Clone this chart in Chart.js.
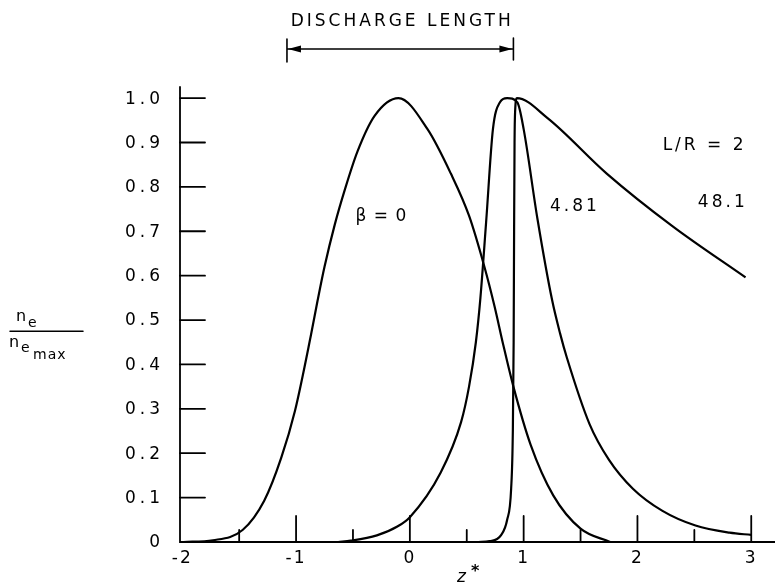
<!DOCTYPE html>
<html>
<head>
  <title>Electron density profiles</title>
  <script src="https://cdn.jsdelivr.net/npm/chart.js@4.4.0/dist/chart.umd.min.js"></script>
  <style>
    body { margin: 0; background: #fff; }
    #wrap { width: 775px; height: 586px; }
  </style>
</head>
<body>
  <div id="wrap"><canvas id="profileChart"></canvas></div>

  <script>
    // axial position z* and normalised density n_e / n_emax, one pair per beta
    const zBeta0 = [-1.99, -1.73, -1.47, -1.28, -1.13, -1.01, -0.87, -0.81, -0.75, -0.66, -0.57, -0.46, -0.31, -0.10,
                    0.155, 0.36, 0.52, 0.655, 0.745, 0.82, 0.91, 1.06, 1.26, 1.50, 1.76];
    const nBeta0 = [0, 0.004, 0.027, 0.093, 0.19, 0.295, 0.465, 0.545, 0.62, 0.715, 0.795, 0.88, 0.96, 1.0,
                    0.93, 0.83, 0.735, 0.62, 0.53, 0.445, 0.35, 0.22, 0.105, 0.03, 0];

    const zBeta481 = [-0.63, -0.52, -0.29, -0.11, 0, 0.27, 0.45, 0.52, 0.58, 0.62, 0.67, 0.73, 0.79, 0.855, 0.945,
                      1.0, 1.12, 1.25, 1.32, 1.38, 1.58, 1.75, 1.96, 2.22, 2.51, 2.81, 3.0];
    const nBeta481 = [0, 0.003, 0.015, 0.035, 0.056, 0.156, 0.27, 0.35, 0.45, 0.55, 0.72, 0.93, 0.99, 1.0, 0.99,
                      0.93, 0.73, 0.545, 0.47, 0.415, 0.265, 0.185, 0.12, 0.07, 0.037, 0.021, 0.016];

    const zBeta48 = [0.60, 0.70, 0.80, 0.855, 0.89, 0.905, 0.912, 0.916, 0.92, 0.925, 0.94, 1.21, 1.73, 2.31, 2.95];
    const nBeta48 = [0, 0.002, 0.015, 0.05, 0.12, 0.25, 0.45, 0.7, 0.9, 0.97, 1.0, 0.955, 0.83, 0.711, 0.596];

    const xTicks = [-2, -1, 0, 1, 2, 3];
    const xTickLabels = ['-2', '-1', '0', '1', '2', '3'];
    const xMinorTicks = [-1.5, -0.5, 0.5, 1.5, 2.5];
    const yTicks = [0, 0.1, 0.2, 0.3, 0.4, 0.5, 0.6, 0.7, 0.8, 0.9, 1.0];
    const yTickLabels = ['0', '0.1', '0.2', '0.3', '0.4', '0.5', '0.6', '0.7', '0.8', '0.9', '1.0'];

    // extent of the discharge, in z*
    const dischargeStart = -1.08;
    const dischargeEnd = 0.91;

    const curveNotes = ['β = 0', '4.81', 'L/R = 2', '48.1'];
    const noteX = [-0.25, 1.45, 2.59, 2.75];
    const noteY = [0.732, 0.755, 0.894, 0.764];

    const FONT = '"DejaVu Sans", sans-serif';

    function pairs(xs, ys) {
      return xs.map((x, i) => ({ x: x, y: ys[i] }));
    }

    function lineSet(label, xs, ys) {
      return {
        label: label,
        data: pairs(xs, ys),
        showLine: true,
        borderColor: '#000',
        borderWidth: 2.2,
        pointRadius: 0,
        cubicInterpolationMode: 'monotone',
        fill: false
      };
    }

    // axes, ticks and lettering drawn by hand on top of the plot
    const handAxes = {
      id: 'handAxes',
      afterDraw(chart) {
        const ctx = chart.ctx;
        const x = chart.scales.x;
        const y = chart.scales.y;
        const base = y.getPixelForValue(0);

        ctx.save();
        ctx.strokeStyle = '#000';
        ctx.fillStyle = '#000';
        ctx.lineWidth = 1.8;
        ctx.lineCap = 'round';

        // axis lines
        ctx.beginPath();
        ctx.moveTo(x.left, y.top);
        ctx.lineTo(x.left, base);
        ctx.lineTo(chart.width, base);
        ctx.stroke();

        // y ticks point into the plot
        ctx.font = '17px ' + FONT;
        ctx.letterSpacing = '4px';
        ctx.textAlign = 'right';
        ctx.textBaseline = 'middle';
        yTicks.forEach((v, i) => {
          const py = y.getPixelForValue(v);
          if (v > 0) {
            ctx.beginPath();
            ctx.moveTo(x.left, py);
            ctx.lineTo(x.left + 25, py);
            ctx.stroke();
          }
          ctx.fillText(yTickLabels[i], x.left - 16, py + 1);
        });

        // x ticks, long on integers and short on halves
        ctx.textAlign = 'center';
        ctx.letterSpacing = '2px';
        xTicks.forEach((v, i) => {
          const px = x.getPixelForValue(v);
          if (v > xTicks[0]) {
            ctx.beginPath();
            ctx.moveTo(px, base);
            ctx.lineTo(px, base - 26);
            ctx.stroke();
          }
          ctx.fillText(xTickLabels[i], px, base + 17);
        });
        xMinorTicks.forEach(v => {
          const px = x.getPixelForValue(v);
          ctx.beginPath();
          ctx.moveTo(px, base);
          ctx.lineTo(px, base - 12);
          ctx.stroke();
        });

        // curve annotations
        ctx.font = '17px ' + FONT;
        curveNotes.forEach((t, i) => {
          ctx.letterSpacing = i === 0 ? '1px' : '3px';
          ctx.fillText(t, x.getPixelForValue(noteX[i]), y.getPixelForValue(noteY[i]));
        });

        // discharge length bracket above the plot
        const xs = x.getPixelForValue(dischargeStart);
        const xe = x.getPixelForValue(dischargeEnd);
        const ay = 49;
        ctx.lineWidth = 1.6;
        ctx.beginPath();
        ctx.moveTo(xs, ay - 10); ctx.lineTo(xs, ay + 13);
        ctx.moveTo(xe, ay - 11); ctx.lineTo(xe, ay + 11);
        ctx.moveTo(xs, ay); ctx.lineTo(xe, ay);
        ctx.stroke();
        ctx.beginPath();
        ctx.moveTo(xs + 1, ay); ctx.lineTo(xs + 14, ay - 3.5); ctx.lineTo(xs + 14, ay + 3.5);
        ctx.closePath();
        ctx.moveTo(xe - 1, ay); ctx.lineTo(xe - 14, ay - 3.5); ctx.lineTo(xe - 14, ay + 3.5);
        ctx.closePath();
        ctx.fill();
        ctx.font = '17px ' + FONT;
        ctx.letterSpacing = '3px';
        ctx.fillText('DISCHARGE LENGTH', (xs + xe) / 2 + 2, 22);

        // y axis title: n_e / n_e,max
        const ty = y.getPixelForValue(0.47);
        ctx.letterSpacing = '1px';
        ctx.textAlign = 'left';
        ctx.textBaseline = 'alphabetic';
        ctx.font = '16px ' + FONT;
        ctx.fillText('n', 16, ty - 12);
        ctx.fillText('n', 9, ty + 14);
        ctx.font = '14px ' + FONT;
        ctx.fillText('e', 28, ty - 6);
        ctx.fillText('e', 21, ty + 19);
        ctx.fillText('max', 33, ty + 26);
        ctx.lineWidth = 1.5;
        ctx.beginPath();
        ctx.moveTo(10, ty - 2);
        ctx.lineTo(83, ty - 2);
        ctx.stroke();

        // x axis title z*
        const tx = x.getPixelForValue(0.52);
        ctx.letterSpacing = '0px';
        ctx.font = 'italic 17px ' + FONT;
        ctx.fillText('z', tx - 12, base + 40);
        ctx.font = 'bold 16px ' + FONT;
        ctx.fillText('*', tx + 2, base + 34);

        ctx.restore();
      }
    };

    const ctx = document.getElementById('profileChart').getContext('2d');
    new Chart(ctx, {
      type: 'scatter',
      data: {
        datasets: [
          lineSet('β = 0', zBeta0, nBeta0),
          lineSet('4.81', zBeta481, nBeta481),
          lineSet('48.1', zBeta48, nBeta48)
        ]
      },
      options: {
        responsive: true,
        maintainAspectRatio: false,
        animation: false,
        layout: { padding: { left: 180, right: 1, top: 87, bottom: 44 } },
        plugins: {
          legend: { display: false },
          tooltip: { enabled: false }
        },
        scales: {
          x: { type: 'linear', min: -2.02, max: 3.2, display: false },
          y: { type: 'linear', min: 0, max: 1.025, display: false }
        }
      },
      plugins: [handAxes]
    });
  </script>
</body>
</html>
